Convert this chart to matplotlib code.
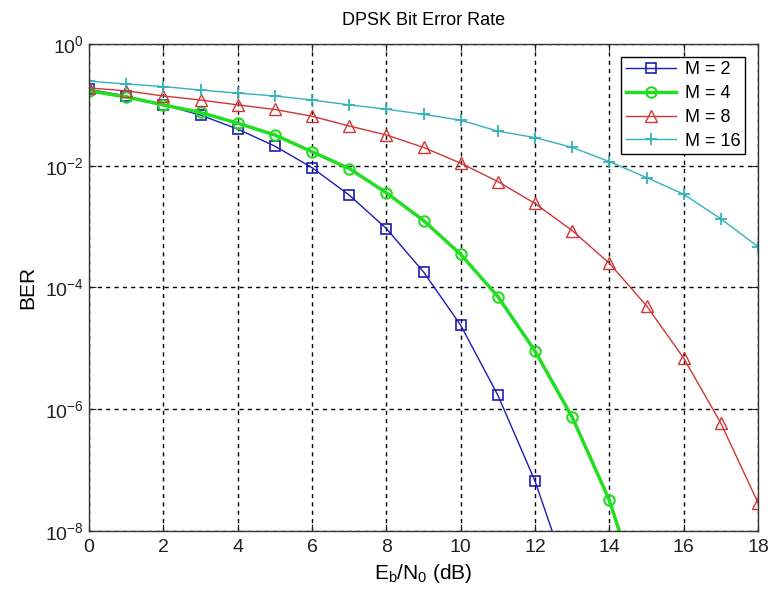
import matplotlib
matplotlib.use('Agg')
import matplotlib.pyplot as plt
from matplotlib.ticker import NullLocator

plt.rcParams['font.family'] = ['Liberation Sans', 'DejaVu Sans']
plt.rcParams['mathtext.fontset'] = 'custom'
plt.rcParams['mathtext.rm'] = 'Liberation Sans'
plt.rcParams['mathtext.it'] = 'Liberation Sans:italic'

# Eb/N0 (dB)
ebn0 = list(range(0, 19))

# BER values
ber_m2 = [0.18, 0.14, 0.10, 0.068, 0.040, 0.021, 0.0093, 0.0033, 9.3e-4, 1.8e-4,
          2.4e-5, 1.7e-6, 6.6e-8, 1.1e-9]
ber_m4 = [0.17, 0.135, 0.10, 0.075, 0.050, 0.032, 0.017, 0.0090, 0.0036, 1.26e-3,
          3.5e-4, 7.1e-5, 9.0e-6, 7.4e-7, 3.2e-8, 4e-10]
ber_m8 = [0.19, 0.17, 0.14, 0.12, 0.10, 0.084, 0.065, 0.045, 0.032, 0.020,
          0.011, 0.0055, 0.0024, 8.6e-4, 2.5e-4, 5.0e-5, 6.9e-6, 5.9e-7, 2.9e-8]
ber_m16 = [0.245, 0.22, 0.20, 0.175, 0.156, 0.14, 0.12, 0.10, 0.085, 0.07,
           0.056, 0.037, 0.029, 0.020, 0.0117, 0.0064, 0.0034, 0.00134, 4.7e-4]

fig = plt.figure(figsize=(7.72, 5.97), dpi=100)
ax = fig.add_axes([0.1153, 0.1106, 0.8666, 0.8157])

ax.semilogy(ebn0[:len(ber_m2)], ber_m2, 's-', color='#1c1cb4', lw=1,
            ms=7.5, mfc='none', mew=1.2, label='M = 2')
ax.semilogy(ebn0[:len(ber_m4)], ber_m4, 'o-', color='#22dd22', lw=2.5,
            ms=7.5, mfc='none', mew=1.5, label='M = 4')
ax.semilogy(ebn0[:len(ber_m8)], ber_m8, '^-', color='#d03636', lw=1,
            ms=8.5, mfc='none', mew=1.0, label='M = 8')
ax.semilogy(ebn0[:len(ber_m16)], ber_m16, '+-', color='#33b3b8', lw=1,
            ms=9, mew=1.3, label='M = 16')

ax.set_xlim(0, 18)
ax.set_ylim(1e-8, 1)
ax.set_xticks(range(0, 19, 2))
ax.set_yticks([1e-8, 1e-6, 1e-4, 1e-2, 1])
ax.yaxis.set_minor_locator(NullLocator())
ax.tick_params(direction='in', labelsize=14, length=5, top=True, right=True,
               colors='#222222')
ax.tick_params(axis='x', pad=6)

ax.grid(True, which='major', color='black', linestyle=(0, (3, 3)), lw=1)
for s in ax.spines.values():
    s.set_color('#333333')
    s.set_linewidth(1)

ax.set_title('DPSK Bit Error Rate', fontsize=13, pad=14)
ax.set_xlabel(r'E$_\mathregular{b}$/N$_\mathregular{0}$ (dB)', fontsize=15, labelpad=4)
ax.set_ylabel('BER', fontsize=15, labelpad=6)

leg = ax.legend(loc='upper right', fontsize=13, fancybox=False, framealpha=1,
                edgecolor='black', borderaxespad=0.7, handlelength=2.8,
                labelspacing=0.38, borderpad=0.25, handletextpad=0.5)
leg.get_frame().set_linewidth(1)

fig.savefig('out.png', dpi=100)
